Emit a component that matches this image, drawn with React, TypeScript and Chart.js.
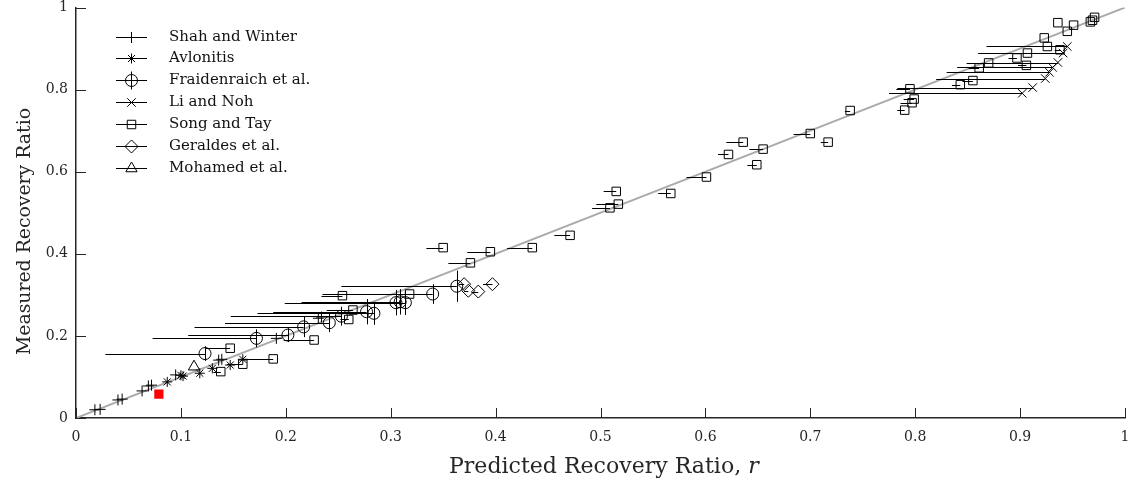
import React, { useEffect, useRef } from 'react';
import { Chart, registerables } from 'chart.js';
import { drawPoint } from 'chart.js/helpers';

Chart.register(...registerables);

const FONT = '"DejaVu Serif", "Liberation Serif", serif';

// Axis ticks
const xTickLabels = ['0', '0.1', '0.2', '0.3', '0.4', '0.5', '0.6', '0.7', '0.8', '0.9', '1'];
const yTickLabels = ['0', '0.2', '0.4', '0.6', '0.8', '1'];
const xTickValues = [0, 0.1, 0.2, 0.3, 0.4, 0.5, 0.6, 0.7, 0.8, 0.9, 1];
const yTickValues = [0, 0.2, 0.4, 0.6, 0.8, 1];

// Reference line r_measured = r_predicted
const refLineX = [0, 1];
const refLineY = [0, 1];

// Shah and Winter
const shahX = [0.018, 0.023, 0.040, 0.044, 0.063, 0.069, 0.072, 0.095, 0.136, 0.139, 0.191, 0.231, 0.234];
const shahY = [0.020, 0.021, 0.044, 0.046, 0.066, 0.078, 0.080, 0.105, 0.141, 0.143, 0.194, 0.243, 0.246];

// Avlonitis
const avlX = [0.087, 0.100, 0.102, 0.118, 0.130, 0.147, 0.159];
const avlY = [0.088, 0.104, 0.102, 0.109, 0.121, 0.129, 0.143];

// Fraidenraich et al. (lower end of predicted range, measured uncertainty)
const fraX = [0.123, 0.172, 0.202, 0.217, 0.2415, 0.253, 0.277, 0.284, 0.305, 0.309, 0.314, 0.340, 0.363];
const fraY = [0.157, 0.194, 0.202, 0.222, 0.232, 0.248, 0.259, 0.255, 0.281, 0.283, 0.281, 0.302, 0.321];
const fraXLow = [0.028, 0.073, 0.107, 0.113, 0.142, 0.1475, 0.188, 0.173, 0.199, 0.215, 0.225, 0.235, 0.253];
const fraYErr = [0.018, 0.022, 0.017, 0.025, 0.023, 0.023, 0.031, 0.028, 0.031, 0.031, 0.030, 0.024, 0.038];

// Li and Noh
const liX = [0.945, 0.941, 0.936, 0.931, 0.928, 0.924, 0.912, 0.902];
const liY = [0.905, 0.889, 0.866, 0.854, 0.842, 0.827, 0.805, 0.791];
const liXLow = [0.868, 0.860, 0.849, 0.840, 0.830, 0.820, 0.783, 0.775];

// Song and Tay
const songX = [0.936, 0.951, 0.945, 0.967, 0.969, 0.971, 0.923, 0.926, 0.938, 0.907, 0.897, 0.906, 0.870, 0.861, 0.855, 0.843,
  0.795, 0.799, 0.797, 0.790, 0.738, 0.700, 0.717, 0.636, 0.655, 0.622, 0.649, 0.601, 0.567, 0.515, 0.517, 0.509, 0.471,
  0.435, 0.395, 0.350, 0.376, 0.254, 0.318, 0.264, 0.260, 0.227, 0.147, 0.188, 0.159, 0.138];
const songY = [0.963, 0.957, 0.942, 0.965, 0.969, 0.976, 0.926, 0.905, 0.897, 0.889, 0.877, 0.859, 0.865, 0.853, 0.822, 0.812,
  0.802, 0.777, 0.768, 0.750, 0.749, 0.693, 0.672, 0.672, 0.655, 0.642, 0.617, 0.587, 0.547, 0.552, 0.521, 0.512, 0.445,
  0.415, 0.405, 0.415, 0.378, 0.298, 0.302, 0.263, 0.240, 0.190, 0.170, 0.144, 0.131, 0.113];
const songXLow = [0.936, 0.951, 0.945, 0.967, 0.969, 0.971, 0.923, 0.926, 0.933, 0.902, 0.889, 0.898, 0.862, 0.851, 0.845, 0.835,
  0.782, 0.789, 0.786, 0.783, 0.733, 0.684, 0.710, 0.620, 0.642, 0.612, 0.640, 0.582, 0.555, 0.503, 0.496, 0.492, 0.456,
  0.411, 0.373, 0.334, 0.355, 0.234, 0.299, 0.239, 0.252, 0.198, 0.123, 0.160, 0.144, 0.131];

// Geraldes et al.
const gerX = [0.370, 0.374, 0.3835, 0.397];
const gerY = [0.326, 0.310, 0.308, 0.326];
const gerXLow = [0.365, 0.370, 0.377, 0.388];

// Mohamed et al.
const mohX = [0.1125];
const mohY = [0.125];

// Highlighted operating point
const highlightX = [0.079];
const highlightY = [0.058];

type Pt = { x: number; y: number; xLow: number; yErr: number };

function toPoints(xs: number[], ys: number[], lows?: number[], yErrs?: number[]): Pt[] {
  return xs.map((x, i) => ({ x, y: ys[i], xLow: lows ? lows[i] : x, yErr: yErrs ? yErrs[i] : 0 }));
}

const marker = (label: string, data: Pt[], pointStyle: string, radius: number, withYBar = false) => ({
  type: 'scatter' as const,
  label,
  data,
  pointStyle,
  pointRadius: radius,
  pointHoverRadius: radius,
  pointBorderColor: '#000',
  pointBackgroundColor: 'rgba(0,0,0,0)',
  pointBorderWidth: 1,
  showLine: false,
  order: 1,
  legendYBar: withYBar,
});

// Error bars are painted right after the reference line, beneath the markers
const errorBarPlugin = {
  id: 'errorBars',
  afterDatasetDraw(chart: any, args: any) {
    if (args.index !== 0) return;
    const { ctx, scales } = chart;
    const xs = scales.x;
    const ys = scales.y;
    ctx.save();
    ctx.strokeStyle = '#000';
    ctx.lineWidth = 1;
    chart.data.datasets.forEach((ds: any, di: number) => {
      if (di === 0 || ds.skipLegend) return;
      (ds.data as Pt[]).forEach((p) => {
        const px = xs.getPixelForValue(p.x);
        const py = Math.round(ys.getPixelForValue(p.y)) + 0.5;
        if (p.xLow < p.x) {
          ctx.beginPath();
          ctx.moveTo(xs.getPixelForValue(p.xLow), py);
          ctx.lineTo(px, py);
          ctx.stroke();
        }
        if (p.yErr > 0) {
          const vx = Math.round(px) + 0.5;
          ctx.beginPath();
          ctx.moveTo(vx, ys.getPixelForValue(p.y - p.yErr));
          ctx.lineTo(vx, ys.getPixelForValue(p.y + p.yErr));
          ctx.stroke();
        }
      });
    });
    ctx.restore();
  },
};

// Font size that makes a text run span the given length
function fittedFont(ctx: CanvasRenderingContext2D, text: string, span: number, style = '') {
  ctx.font = `${style}20px ${FONT}`;
  const w = ctx.measureText(text).width;
  return (20 * span) / w;
}

// Inward tick marks, legend block and axis titles
const decorPlugin = {
  id: 'decor',
  afterDraw(chart: any) {
    const { ctx, scales, chartArea } = chart;
    const xs = scales.x;
    const ys = scales.y;
    ctx.save();
    ctx.strokeStyle = '#262626';
    ctx.lineWidth = 1;
    xTickValues.forEach((v) => {
      const px = Math.round(xs.getPixelForValue(v)) + 0.5;
      ctx.beginPath();
      ctx.moveTo(px, chartArea.bottom);
      ctx.lineTo(px, chartArea.bottom - 10);
      ctx.stroke();
    });
    yTickValues.forEach((v) => {
      const py = Math.round(ys.getPixelForValue(v)) + 0.5;
      ctx.beginPath();
      ctx.moveTo(chartArea.left, py);
      ctx.lineTo(chartArea.left + 10, py);
      ctx.stroke();
    });

    // legend
    const rowTop = 36.5;
    const rowStep = 21.9;
    const symX = 131.5;
    let row = 0;
    chart.data.datasets.forEach((ds: any, di: number) => {
      if (di === 0 || ds.skipLegend) return;
      const y = Math.round(rowTop + row * rowStep) + 0.5;
      ctx.strokeStyle = '#000';
      ctx.fillStyle = 'rgba(0,0,0,0)';
      ctx.lineWidth = 1;
      ctx.beginPath();
      ctx.moveTo(116, y);
      ctx.lineTo(147, y);
      ctx.stroke();
      if (ds.legendYBar) {
        ctx.beginPath();
        ctx.moveTo(symX, y - 9);
        ctx.lineTo(symX, y + 9);
        ctx.stroke();
      }
      drawPoint(ctx, { pointStyle: ds.pointStyle, radius: ds.pointRadius, rotation: 0, borderWidth: 1 }, symX, y);
      ctx.fillStyle = '#111';
      ctx.font = `15px ${FONT}`;
      ctx.textAlign = 'left';
      ctx.textBaseline = 'middle';
      ctx.fillText(ds.label, 169, y);
      row += 1;
    });

    // axis titles
    ctx.fillStyle = '#262626';
    ctx.textBaseline = 'alphabetic';
    const main = 'Predicted Recovery Ratio, ';
    const xSize = fittedFont(ctx, main + 'r', 310);
    ctx.font = `${xSize}px ${FONT}`;
    const w1 = ctx.measureText(main).width;
    const startX = 449;
    ctx.textAlign = 'left';
    ctx.fillText(main, startX, 473);
    ctx.font = `italic ${xSize}px ${FONT}`;
    ctx.fillText('r', startX + w1, 473);

    const yText = 'Measured Recovery Ratio';
    const ySize = fittedFont(ctx, yText, 247);
    ctx.translate(30, 231.5);
    ctx.rotate(-Math.PI / 2);
    ctx.font = `${ySize}px ${FONT}`;
    ctx.textAlign = 'center';
    ctx.fillText(yText, 0, 0);
    ctx.restore();
  },
};

export default function App() {
  const canvasRef = useRef<HTMLCanvasElement | null>(null);

  useEffect(() => {
    document.body.style.margin = '0';
    const canvas = canvasRef.current;
    if (!canvas) return;

    const datasets: any[] = [
      {
        type: 'line',
        label: 'reference',
        data: refLineX.map((x, i) => ({ x, y: refLineY[i] })),
        borderColor: '#aaaaaa',
        borderWidth: 2,
        pointRadius: 0,
        showLine: true,
        fill: false,
        order: 10,
      },
      marker('Shah and Winter', toPoints(shahX, shahY), 'cross', 5.5),
      marker('Avlonitis', toPoints(avlX, avlY), 'star', 5),
      marker('Fraidenraich et al.', toPoints(fraX, fraY, fraXLow, fraYErr), 'circle', 6, true),
      marker('Li and Noh', toPoints(liX, liY, liXLow), 'crossRot', 6),
      marker('Song and Tay', toPoints(songX, songY, songXLow), 'rect', 6),
      marker('Geraldes et al.', toPoints(gerX, gerY, gerXLow), 'rectRot', 6.5),
      marker('Mohamed et al.', toPoints(mohX, mohY), 'triangle', 6.5),
      {
        type: 'scatter',
        label: 'highlight',
        skipLegend: true,
        data: toPoints(highlightX, highlightY),
        pointStyle: 'rect',
        pointRadius: 6.5,
        pointBorderColor: '#ff0000',
        pointBackgroundColor: '#ff0000',
        pointBorderWidth: 0,
        order: 0,
      },
    ];

    const chart = new Chart(canvas, {
      type: 'scatter',
      data: { datasets },
      options: {
        animation: false,
        responsive: false,
        maintainAspectRatio: false,
        layout: { padding: { top: 7, right: 8, left: 0, bottom: 0 } },
        plugins: { legend: { display: false }, tooltip: { enabled: false } },
        scales: {
          x: {
            type: 'linear',
            min: 0,
            max: 1,
            afterFit: (s: any) => {
              s.height = 64;
              s.paddingLeft = 0;
              s.paddingRight = 0;
            },
            afterBuildTicks: (s: any) => { s.ticks = xTickValues.map((v) => ({ value: v })); },
            ticks: {
              autoSkip: false,
              maxRotation: 0,
              padding: 11,
              color: '#262626',
              font: { family: FONT, size: 14 },
              callback: (_v: any, i: number) => xTickLabels[i],
            },
            grid: { display: false, drawTicks: false },
            border: { display: true, color: '#262626', width: 1.5 },
          },
          y: {
            type: 'linear',
            min: 0,
            max: 1,
            afterFit: (s: any) => {
              s.width = 76;
              s.paddingTop = 0;
              s.paddingBottom = 0;
            },
            afterBuildTicks: (s: any) => { s.ticks = yTickValues.map((v) => ({ value: v })); },
            ticks: {
              autoSkip: false,
              padding: 8,
              color: '#262626',
              font: { family: FONT, size: 14 },
              callback: (_v: any, i: number) => yTickLabels[i],
            },
            grid: { display: false, drawTicks: false },
            border: { display: true, color: '#262626', width: 1.5 },
          },
        },
      },
      plugins: [errorBarPlugin, decorPlugin],
    });

    return () => chart.destroy();
  }, []);

  return (
    <div style={{ width: 1133, height: 482 }}>
      <canvas ref={canvasRef} width={1133} height={482} style={{ display: 'block' }} />
    </div>
  );
}
